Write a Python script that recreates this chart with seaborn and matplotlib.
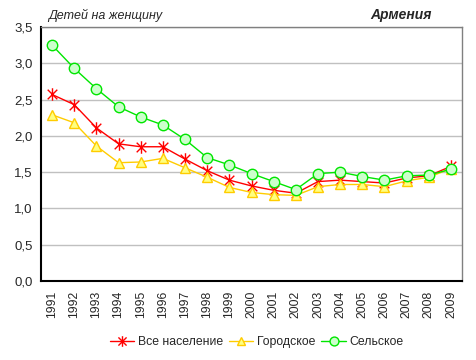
import pandas as pd
import numpy as np
import matplotlib
matplotlib.use("Agg")
import matplotlib.pyplot as plt
import seaborn as sns
from matplotlib.path import Path
from matplotlib.ticker import FuncFormatter, MultipleLocator
from matplotlib.lines import Line2D

# Daten
years = list(range(1991, 2010))
vse = [2.57, 2.43, 2.11, 1.89, 1.85, 1.85, 1.68, 1.52, 1.39, 1.31,
       1.25, 1.21, 1.37, 1.39, 1.37, 1.35, 1.42, 1.45, 1.58]
gorod = [2.29, 2.18, 1.86, 1.63, 1.64, 1.69, 1.56, 1.43, 1.29, 1.22,
         1.19, 1.18, 1.30, 1.33, 1.33, 1.30, 1.38, 1.43, 1.55]
selo = [3.25, 2.93, 2.65, 2.40, 2.26, 2.15, 1.95, 1.70, 1.60, 1.48,
        1.37, 1.26, 1.48, 1.50, 1.44, 1.39, 1.45, 1.46, 1.54]
series_names = ["Все население", "Городское", "Сельское"]

df = pd.DataFrame({
    "year": years * 3,
    "value": vse + gorod + selo,
    "series": np.repeat(series_names, len(years)),
})

sns.set_style("white")
plt.rcParams['font.family'] = ['Liberation Sans', 'DejaVu Sans']

# Excel-Stern: x + senkrechter Strich
star = Path([(-1, -1), (1, 1), (-1, 1), (1, -1), (0, -1.3), (0, 1.3)],
            [Path.MOVETO, Path.LINETO, Path.MOVETO, Path.LINETO, Path.MOVETO, Path.LINETO])

styles = {
    "Все население": dict(color="#ff0000", marker=star, mfc="#ff0000", mec="#ff0000", ms=9, mew=1.0),
    "Городское": dict(color="#ffcc00", marker="^", mfc="#ffff80", mec="#ffcc00", ms=7, mew=1.0),
    "Сельское": dict(color="#00e600", marker="o", mfc="#ccffcc", mec="#00e600", ms=7.5, mew=1.0),
}

fig = plt.figure(figsize=(4.77, 3.6), dpi=100)
ax = fig.add_axes([0.086, 0.2194, 0.8826, 0.7056])

for name in series_names:
    st = styles[name]
    sns.lineplot(data=df[df["series"] == name], x="year", y="value", ax=ax,
                 color=st["color"], lw=1.0, legend=False)
    ax.lines[-1].set(marker=st["marker"], markerfacecolor=st["mfc"],
                     markeredgecolor=st["mec"], markersize=st["ms"], markeredgewidth=st["mew"])

ax.set_xlim(1990.5, 2009.5)
ax.set_ylim(0, 3.5)
ax.yaxis.set_major_locator(MultipleLocator(0.5))
ax.yaxis.set_major_formatter(FuncFormatter(lambda v, p: f"{v:.1f}".replace('.', ',')))
ax.set_xticks(years)
ax.set_xticklabels([str(y) for y in years], rotation=90)
ax.set_xticks(np.arange(1990.5, 2010, 1.0), minor=True)
ax.tick_params(axis='x', which='major', length=0, pad=7, labelsize=8.8)
ax.tick_params(axis='x', which='minor', length=5, width=1, color='black', direction='out')
ax.tick_params(axis='y', length=0, pad=6, labelsize=9.5)
ax.grid(axis='y', color='#c0c0c0', lw=1)
ax.set_axisbelow(True)
ax.set_xlabel("")
ax.set_ylabel("")

for side in ['left', 'bottom']:
    ax.spines[side].set_color('black')
    ax.spines[side].set_linewidth(1.5)
for side in ['top', 'right']:
    ax.spines[side].set_color('#808080')
    ax.spines[side].set_linewidth(1.0)

fig.text(0.1, 0.957, "Детей на женщину", fontsize=9, style='italic', ha='left', va='center')
fig.text(0.905, 0.957, "Армения", fontsize=10, style='italic', weight='bold', ha='right', va='center')

handles = []
for name in series_names:
    st = styles[name]
    handles.append(Line2D([], [], color=st["color"], lw=1.0, marker=st["marker"],
                          markerfacecolor=st["mfc"], markeredgecolor=st["mec"],
                          markersize=st["ms"] * 0.85, markeredgewidth=st["mew"]))
fig.legend(handles, series_names, loc='center', bbox_to_anchor=(0.538, 0.05), ncol=3,
           frameon=False, fontsize=8.8, handlelength=2.0, handletextpad=0.3, columnspacing=0.5)

fig.savefig("out.png", dpi=100)
